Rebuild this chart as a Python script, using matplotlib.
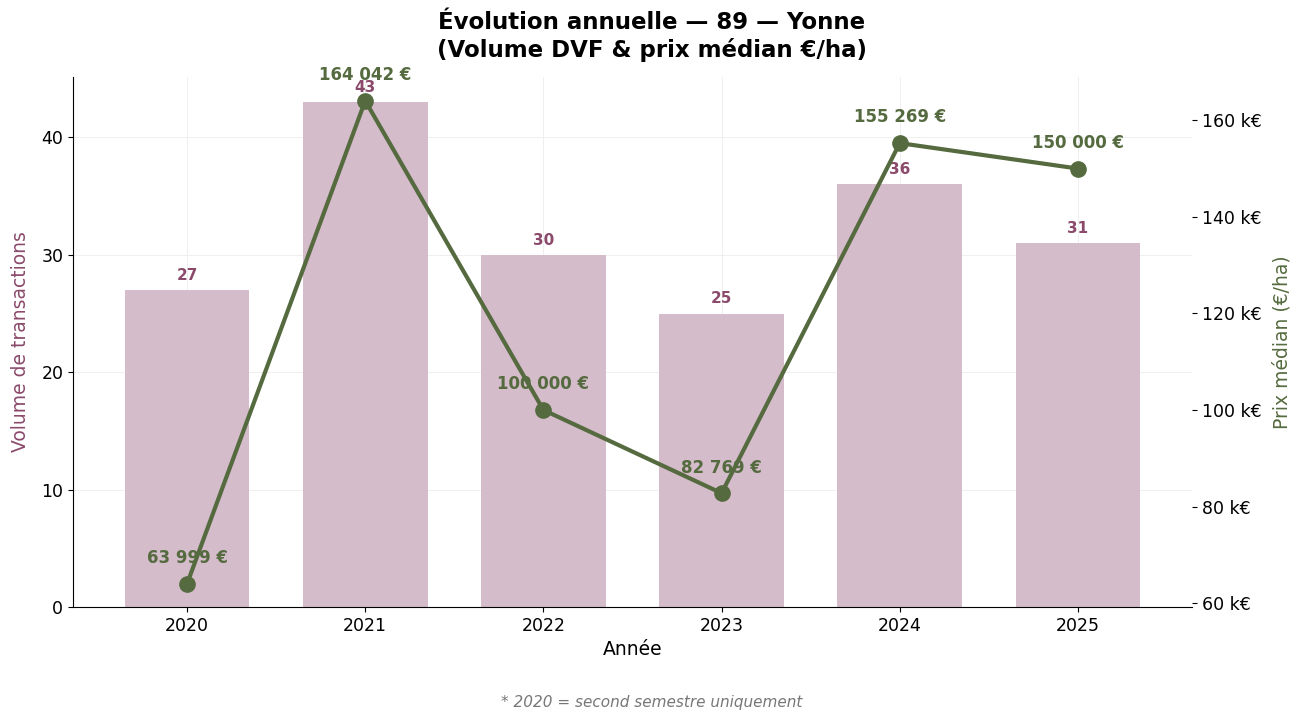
import matplotlib
matplotlib.use("Agg")
import matplotlib.pyplot as plt
from matplotlib.ticker import FuncFormatter

years = ["2020", "2021", "2022", "2023", "2024", "2025"]
volumes = [27, 43, 30, 25, 36, 31]
prices = [63999, 164042, 100000, 82769, 155269, 150000]

bar_color = "#d4bcca"
bar_text = "#8b4a6b"
line_color = "#556b3f"


def fmt_eur(v):
    return f"{v:,.0f}".replace(",", " ") + " €"


fig = plt.figure(figsize=(13.04, 7.19), dpi=100)
ax = fig.add_axes([73 / 1304, 1 - 607 / 719, (1192 - 73) / 1304, (607 - 77) / 719])
x = list(range(len(years)))

ax.bar(x, volumes, width=0.7, color=bar_color, zorder=2)
for xi, v in zip(x, volumes):
    ax.text(xi, v + 0.6, str(v), ha="center", va="bottom", color=bar_text,
            fontsize=11, fontweight="bold", zorder=5)
ax.set_ylim(0, max(volumes) * 1.05)
ax.set_xlim(-0.64, 5.64)
ax.set_xticks(x)
ax.set_xticklabels(years, fontsize=12.5)
ax.tick_params(axis="y", labelsize=12.5)
ax.set_xlabel("Année", fontsize=13.5)
ax.set_ylabel("Volume de transactions", fontsize=13.5, color=bar_text, labelpad=8)
ax.grid(True, color="#efefef", linewidth=0.7, zorder=0)
ax.set_axisbelow(True)
ax.spines["top"].set_visible(False)
ax.spines["right"].set_visible(False)

ax2 = ax.twinx()
ax2.plot(x, prices, color=line_color, linewidth=3, marker="o", markersize=11, zorder=4)
ax2.set_ylim(min(prices) * 0.925, max(prices) * 1.03)
ax2.yaxis.set_major_formatter(FuncFormatter(lambda v, p: f"{v/1000:.0f} k€"))
ax2.tick_params(axis="y", labelsize=12.5)
ax2.set_ylabel("Prix médian (€/ha)", fontsize=13.5, color=line_color, labelpad=8)
for s in ["top", "right", "left", "bottom"]:
    ax2.spines[s].set_visible(False)
for xi, p in zip(x, prices):
    ax2.annotate(fmt_eur(p), (xi, p), xytext=(0, 12), textcoords="offset points",
                 ha="center", va="bottom", color=line_color, fontsize=12, fontweight="bold")

fig.suptitle("Évolution annuelle — 89 — Yonne\n(Volume DVF & prix médian €/ha)",
             fontsize=16.5, fontweight="bold", y=0.985)
fig.text(0.5, 0.017, "* 2020 = second semestre uniquement", ha="center",
         fontsize=11, style="italic", color="#777777")

fig.savefig("out.png", dpi=100)
